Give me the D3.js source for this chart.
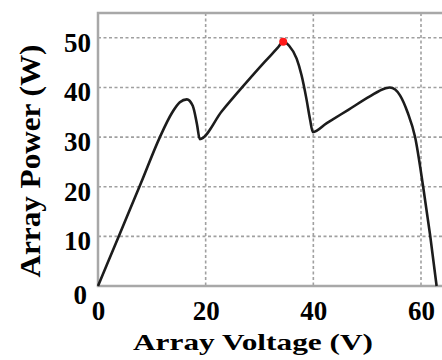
<!DOCTYPE html>
<html>
<head>
<meta charset="utf-8">
<script src="https://cdn.jsdelivr.net/npm/d3@7"></script>
<style>
  body { margin: 0; background: #fff; }
</style>
</head>
<body>
<div id="chart"></div>
<script>
// P-V curve of the array
const voltage = [0, 4, 8, 11.5, 13.7, 15.2, 16.5, 17.6, 18.4, 18.9, 23, 27, 31, 33.4, 34.4, 35.5, 36.9, 37.8, 38.7, 39.4, 39.9, 42.5, 46.5, 50.5, 53.3, 54.2, 55.2, 56.1, 57.5, 58.9, 60.4, 61.7, 62.9]
const power   = [0, 10.4, 20.8, 30, 34.8, 37, 37.6, 36.3, 32.5, 29.6, 35.2, 40.3, 45.2, 48, 49.2, 48.4, 45.8, 42.5, 37.8, 33.5, 31, 32.8, 35.5, 38.2, 39.8, 40, 39.6, 38.4, 35, 30, 20, 10.2, 0]
// maximum power point
const mpp = { v: 34.4, p: 49.2 }
const xTicks = [0, 20, 40, 60]
const yTicks = [0, 10, 20, 30, 40, 50]

const width = 442
const height = 360
const plot = { left: 98, top: 13, bottom: 286 }
const serif = '"Liberation Serif", "Times New Roman", Times, serif'

const x = d3.scaleLinear().domain([0, 60]).range([plot.left, 421])
const y = d3.scaleLinear().domain([0, 55]).range([plot.bottom, plot.top])

const svg = d3.select("#chart").append("svg")
    .attr("width", width)
    .attr("height", height)

svg.append("rect").attr("width", width).attr("height", height).attr("fill", "#fff")

// grid
const grid = svg.append("g").attr("stroke", "#a0a0a0").attr("stroke-width", 1.6).attr("stroke-dasharray", "3,2.5")
grid.selectAll(".hg").data(yTicks.filter(d => d > 0)).enter().append("line")
    .attr("x1", plot.left).attr("x2", width + 10)
    .attr("y1", d => y(d)).attr("y2", d => y(d))
grid.selectAll(".vg").data(xTicks.filter(d => d > 0)).enter().append("line")
    .attr("x1", d => x(d)).attr("x2", d => x(d))
    .attr("y1", plot.top).attr("y2", plot.bottom)

// frame
svg.append("path")
    .attr("stroke", "#a8a8a8").attr("stroke-width", 2.5).attr("fill", "none")
    .attr("d", `M${width + 10},${plot.top}H${plot.left}V${plot.bottom}H${width + 10}`)

// curve
const line = d3.line()
    .x((d, i) => x(voltage[i]))
    .y(d => y(d))
    .curve(d3.curveMonotoneX)

svg.append("path")
    .datum(power)
    .attr("fill", "none")
    .attr("stroke", "#1c1c1c")
    .attr("stroke-width", 2.6)
    .attr("stroke-linejoin", "round")
    .attr("d", line)

svg.append("circle")
    .attr("cx", x(mpp.v))
    .attr("cy", y(mpp.p))
    .attr("r", 4)
    .attr("fill", "#ff1a1a")

// axes
const xAxis = svg.append("g")
    .attr("transform", "translate(0," + plot.bottom + ")")
    .call(d3.axisBottom(x).tickValues(xTicks).tickSize(0).tickPadding(0))
xAxis.select(".domain").remove()
xAxis.selectAll("text")
    .attr("y", 34).attr("dy", null)

const yAxis = svg.append("g")
    .attr("transform", "translate(" + plot.left + ",0)")
    .call(d3.axisLeft(y).tickValues(yTicks).tickSize(0).tickPadding(7))
yAxis.select(".domain").remove()
yAxis.selectAll("text")
    .attr("dy", "0.5em")
yAxis.selectAll(".tick").filter(d => d === 0).select("text")
    .attr("x", -11).attr("dy", "0.65em")

svg.selectAll("g").attr("font-family", null).attr("font-size", null)
svg.selectAll(".tick text")
    .style("font-family", serif)
    .style("font-weight", "bold")
    .style("font-size", "27px")
    .attr("fill", "#000")

// titles
svg.append("text")
    .attr("x", 253)
    .attr("y", 350)
    .attr("text-anchor", "middle")
    .attr("textLength", 240)
    .attr("lengthAdjust", "spacingAndGlyphs")
    .style("font-family", serif)
    .style("font-weight", "bold")
    .style("font-size", "24px")
    .text("Array Voltage (V)")

svg.append("text")
    .attr("transform", "translate(40,161) rotate(-90)")
    .attr("text-anchor", "middle")
    .attr("textLength", 233)
    .attr("lengthAdjust", "spacingAndGlyphs")
    .style("font-family", serif)
    .style("font-weight", "bold")
    .style("font-size", "30px")
    .text("Array Power (W)")
</script>
</body>
</html>
